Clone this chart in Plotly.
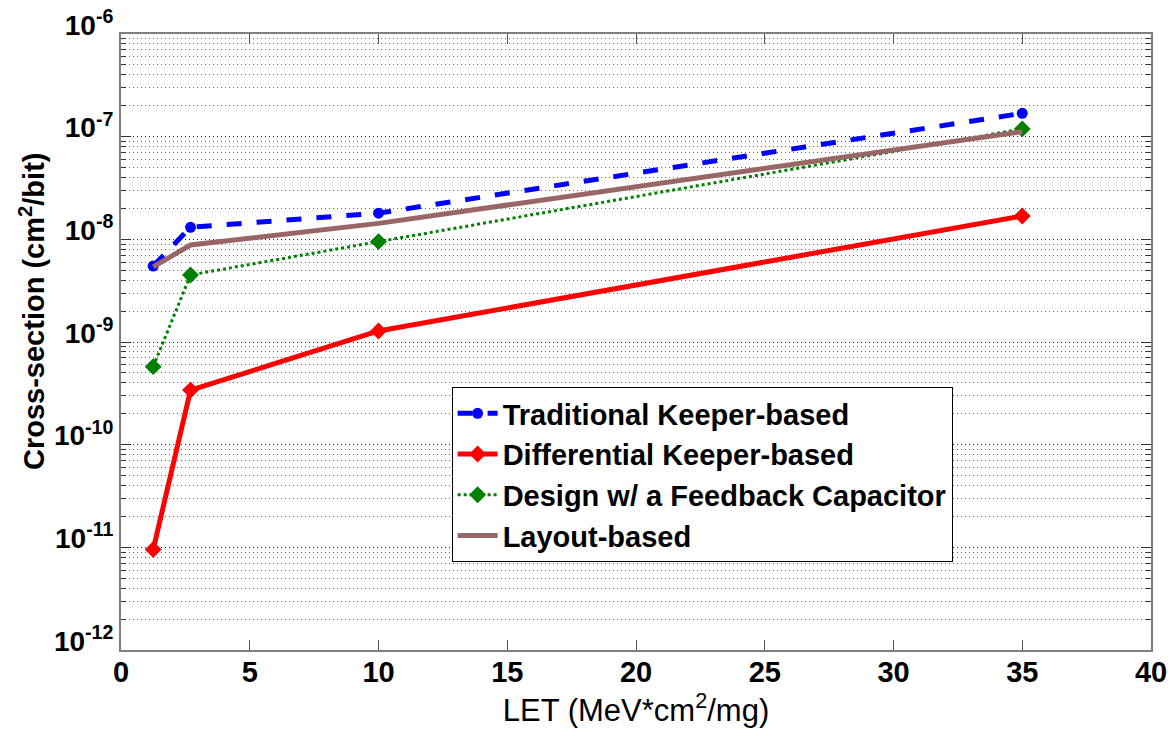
import plotly.graph_objects as go

# LET values (MeV*cm^2/mg) at which each design was irradiated
let_values = [1.25, 2.7, 10.0, 35.0]

# Measured cross-sections (cm^2/bit)
traditional_keeper = [5.5e-9, 1.31e-8, 1.8e-8, 1.69e-7]
differential_keeper = [9.5e-12, 3.4e-10, 1.28e-9, 1.69e-8]
feedback_capacitor = [5.75e-10, 4.5e-9, 9.5e-9, 1.19e-7]
layout_based = [5.4e-9, 8.8e-9, 1.43e-8, 1.12e-7]

series_names = [
    "Traditional Keeper-based",
    "Differential Keeper-based",
    "Design w/ a Feedback Capacitor",
    "Layout-based",
]

x_ticks = [0, 5, 10, 15, 20, 25, 30, 35, 40]
y_ticks = [1e-12, 1e-11, 1e-10, 1e-9, 1e-8, 1e-7, 1e-6]
y_tick_labels = ["10<sup>-12</sup>", "10<sup>-11</sup>", "10<sup>-10</sup>",
                 "10<sup>-9</sup>", "10<sup>-8</sup>", "10<sup>-7</sup>",
                 "10<sup>-6</sup>"]

FONT = "Liberation Sans, Arial, sans-serif"
DOTS = "1px,3px"

fig = go.Figure()

fig.add_trace(go.Scatter(
    x=let_values, y=traditional_keeper, name=series_names[0],
    mode="lines+markers",
    line=dict(color="#0000ff", width=5, dash="dash"),
    marker=dict(symbol="circle", size=11, color="#0000ff"),
))
fig.add_trace(go.Scatter(
    x=let_values, y=differential_keeper, name=series_names[1],
    mode="lines+markers",
    line=dict(color="#ff0000", width=5),
    marker=dict(symbol="diamond", size=13, color="#ff0000"),
))
fig.add_trace(go.Scatter(
    x=let_values, y=feedback_capacitor, name=series_names[2],
    mode="lines+markers",
    line=dict(color="#008000", width=3, dash="dot"),
    marker=dict(symbol="diamond", size=13, color="#008000"),
))
fig.add_trace(go.Scatter(
    x=let_values, y=layout_based, name=series_names[3],
    mode="lines",
    line=dict(color="#996666", width=5),
))

fig.update_layout(
    width=1172, height=736,
    margin=dict(l=121, r=21, t=34, b=86),
    paper_bgcolor="white", plot_bgcolor="white",
    font=dict(family=FONT, color="black"),
    legend=dict(
        x=0.321, y=0.427, xanchor="left", yanchor="top",
        bgcolor="white", bordercolor="black", borderwidth=1,
        font=dict(family=FONT, size=29, weight="bold", color="black"),
        tracegroupgap=0, itemwidth=40,
    ),
    showlegend=True,
)

fig.update_xaxes(
    range=[0, 40], tickvals=x_ticks, automargin=False,
    ticks="inside", ticklen=10, tickcolor="#555555", tickwidth=1,
    showline=True, linecolor="#808080", linewidth=2, mirror="ticks",
    showgrid=False, zeroline=False, ticklabelstandoff=-5,
    tickfont=dict(family=FONT, size=29, weight="bold"),
    title=dict(text="LET (MeV*cm<sup>2</sup>/mg)",
               font=dict(family=FONT, size=31), standoff=4),
)

fig.update_yaxes(
    type="log", range=[-12, -6], automargin=False,
    tickmode="array", tickvals=y_ticks, ticktext=y_tick_labels,
    ticks="inside", ticklen=10, tickcolor="#333333", tickwidth=1,
    showline=True, linecolor="#808080", linewidth=2, mirror="ticks",
    showgrid=True, gridcolor="rgba(0,0,0,0.7)", griddash=DOTS, gridwidth=1,
    zeroline=False, ticklabelshift=-9,
    minor=dict(dtick="D1", ticks="inside", ticklen=5, tickcolor="#333333",
               showgrid=True, gridcolor="rgba(0,0,0,0.6)", griddash=DOTS,
               gridwidth=1),
    tickfont=dict(family=FONT, size=28, weight="bold"),
)

# Y-axis title, placed beside the tick labels
fig.add_annotation(
    text="Cross-section (cm<sup>2</sup>/bit)",
    xref="paper", yref="paper",
    x=(32 - 121) / 1030, y=(650 - 312) / 616,
    xanchor="center", yanchor="middle",
    textangle=-90, showarrow=False,
    font=dict(family=FONT, size=29, weight="bold", color="black"),
)

fig.write_html("out.html")
